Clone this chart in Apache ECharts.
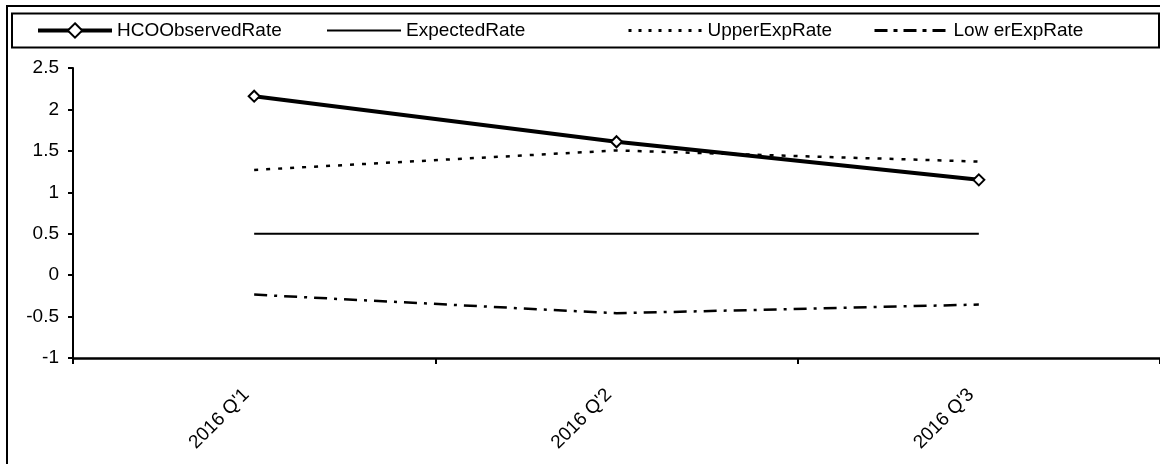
<!DOCTYPE html>
<html>
<head>
<meta charset="utf-8">
<script src="https://cdn.jsdelivr.net/npm/echarts@6/dist/echarts.min.js"></script>
<style>
html,body{margin:0;padding:0;background:#fff;}
#chart{width:1160px;height:464px;}
</style>
</head>
<body>
<div id="chart"></div>
<script>
var categories = ["2016 Q'1", "2016 Q'2", "2016 Q'3"];
var hcoObserved = [2.16, 1.61, 1.15];
var expected = [0.5, 0.5, 0.5];
var upperExp = [1.27, 1.505, 1.37];
var lowerExp = [-0.235, -0.46, -0.355];
var seriesNames = ['HCOObservedRate', 'ExpectedRate', 'UpperExpRate', 'Low erExpRate'];
var yTicks = { min: -1, max: 2.5, interval: 0.5 };

var FONT = "'Liberation Sans', Arial, sans-serif";
var chart = echarts.init(document.getElementById('chart'));

function legendAt(name, left, hideSymbol, lineStyle) {
  var item = { name: name };
  if (hideSymbol) item.itemStyle = { color: 'rgba(0,0,0,0)', borderWidth: 0, borderColor: 'rgba(0,0,0,0)' };
  return {
    data: [item], left: left, top: 21, padding: 0,
    itemWidth: 74, itemHeight: 18, itemGap: 0,
    lineStyle: lineStyle,
    textStyle: { fontFamily: FONT, fontSize: 19, color: '#000', padding: [0, 0, 0, 0] },
    selectedMode: false
  };
}

chart.setOption({
  animation: false,
  backgroundColor: '#fff',
  textStyle: { fontFamily: FONT },
  grid: { left: 73, right: 0, top: 68, bottom: 106, containLabel: false },
  legend: [
    legendAt(seriesNames[0], 36, false, { width: 4, color: '#000' }),
    legendAt(seriesNames[1], 326, true, { width: 2, color: '#000' }),
    legendAt(seriesNames[2], 627, true, { width: 3, color: '#000', type: [3, 7] }),
    legendAt(seriesNames[3], 873, true, { width: 3, color: '#000', type: [13, 6, 4, 6] })
  ],
  graphic: [
    { type: 'rect', shape: { x: 7, y: 6, width: 1180, height: 480 }, style: { fill: 'none', stroke: '#000', lineWidth: 2 }, z: 100 },
    { type: 'rect', shape: { x: 12, y: 13.5, width: 1147, height: 34 }, style: { fill: 'none', stroke: '#000', lineWidth: 2 }, z: 100 }
  ],
  xAxis: {
    type: 'category', data: categories, boundaryGap: true,
    axisLine: { onZero: false, lineStyle: { color: '#000', width: 2.5 } },
    axisTick: { show: true, length: 6, lineStyle: { color: '#000', width: 2 } },
    axisLabel: { rotate: 45, margin: 26, padding: [0, 11, 0, 0], fontSize: 19, color: '#000', fontFamily: FONT },
    splitLine: { show: false }
  },
  yAxis: {
    type: 'value', min: yTicks.min, max: yTicks.max, interval: yTicks.interval,
    axisLine: { show: true, lineStyle: { color: '#000', width: 2 } },
    axisTick: { show: true, length: 5, lineStyle: { color: '#000', width: 2 } },
    axisLabel: { margin: 14, fontSize: 19, color: '#000', fontFamily: FONT },
    splitLine: { show: false }
  },
  series: [
    { name: seriesNames[0], type: 'line', data: hcoObserved, symbol: 'diamond', symbolSize: 11,
      itemStyle: { color: '#fff', borderColor: '#000', borderWidth: 2 },
      lineStyle: { color: '#000', width: 4 }, z: 5 },
    { name: seriesNames[1], type: 'line', data: expected, symbol: 'none',
      itemStyle: { color: '#000' },
      lineStyle: { color: '#000', width: 2 } },
    { name: seriesNames[2], type: 'line', data: upperExp, symbol: 'none',
      itemStyle: { color: '#000' },
      lineStyle: { color: '#000', width: 2.5, type: [4, 8] } },
    { name: seriesNames[3], type: 'line', data: lowerExp, symbol: 'none',
      itemStyle: { color: '#000' },
      lineStyle: { color: '#000', width: 2.5, type: [13, 7, 3, 7] } }
  ]
});
</script>
</body>
</html>
